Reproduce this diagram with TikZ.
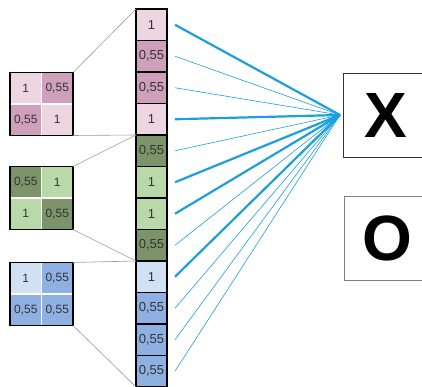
\documentclass[tikz,border=0pt]{standalone}
\usepackage{fontspec}
\setmainfont{Liberation Sans}
\usetikzlibrary{positioning}

\definecolor{pinkL}{HTML}{EDD6E1}
\definecolor{pinkD}{HTML}{CFA0BB}
\definecolor{greenL}{HTML}{B9DAA8}
\definecolor{greenD}{HTML}{7D946B}
\definecolor{blueL}{HTML}{CFE1F3}
\definecolor{blueD}{HTML}{8FB0E3}
\definecolor{wire}{RGB}{27,160,220}
\definecolor{digit}{HTML}{333333}

\begin{document}
\begin{tikzpicture}[x=1pt, y=1pt,
  cell/.style={draw=black, line width=1.6pt, minimum width=31pt, minimum height=31.5pt,
    inner sep=0pt, outer sep=0pt, text=digit, font=\fontsize{13}{15}\selectfont},
  tile/.style={fill=#1, draw=white, line width=1.6pt, minimum size=31.5pt,
    inner sep=0pt, outer sep=0pt, text=digit, font=\fontsize{12}{14}\selectfont},
  frame/.style={draw=black, line width=1.6pt, minimum size=63pt, inner sep=0pt, outer sep=0pt},
  label/.style={draw=#1, line width=0.8pt, fill=white, inner sep=0pt, outer sep=0pt,
    minimum width=86pt, minimum height=84pt, font=\fontsize{64}{64}\selectfont\bfseries},
  link/.style={wire, line width=0.6pt},
  strong/.style={wire, line width=2.2pt},
  guide/.style={gray!80, line width=0.6pt}]

\clip (0,0) rectangle (422,387);

% output classes
\node[label=black!80] (xbox) at (386,272) {X};
\node[label=black!50] (obox) at (387,148.5) {O};
\coordinate (hub) at ([xshift=-3pt]xbox.west);

% flattened column
\foreach \fc/\v [count=\i] in {pinkL/1, pinkD/{0,55}, pinkD/{0,55}, pinkL/1,
    greenD/{0,55}, greenL/1, greenL/1, greenD/{0,55},
    blueL/1, blueD/{0,55}, blueD/{0,55}, blueD/{0,55}}
  \node[cell, fill=\fc] (c\i) at (151.5, {378-(\i-0.5)*31.5}) {\v};

% weights towards X
\foreach \w [count=\i] in {strong, link, link, strong, link, strong,
    strong, link, strong, link, link, link}
  \draw[\w] ([xshift=8pt]c\i.east) -- (hub);

% pink 2x2
\node[tile=pinkL] (p11) at (25.75,298.75) {1};
\node[tile=pinkD] (p12) at (57.25,298.75) {0,55};
\node[tile=pinkD] (p21) at (25.75,267.25) {0,55};
\node[tile=pinkL] (p22) at (57.25,267.25) {1};
\node[frame] (pk) at (41.5,283) {};

% green 2x2
\node[tile=greenD] (g11) at (25.75,204.75) {0,55};
\node[tile=greenL] (g12) at (57.25,204.75) {1};
\node[tile=greenL] (g21) at (25.75,173.25) {1};
\node[tile=greenD] (g22) at (57.25,173.25) {0,55};
\node[frame] (gr) at (41.5,189) {};

% blue 2x2
\node[tile=blueL] (b11) at (25.75,108.75) {1};
\node[tile=blueD] (b12) at (57.25,108.75) {0,55};
\node[tile=blueD] (b21) at (25.75,77.25) {0,55};
\node[tile=blueD] (b22) at (57.25,77.25) {0,55};
\node[frame] (bl) at (41.5,93) {};

% fan-out of each square into the column
\draw[guide] (pk.north east) -- (c1.north west);
\draw[guide] (pk.south east) -- (c4.south west);
\draw[guide] (gr.north east) -- (c5.north west);
\draw[guide] (gr.south east) -- (c8.south west);
\draw[guide] (bl.north east) -- (c9.north west);
\draw[guide] (bl.south east) -- (c12.south west);

\end{tikzpicture}
\end{document}
